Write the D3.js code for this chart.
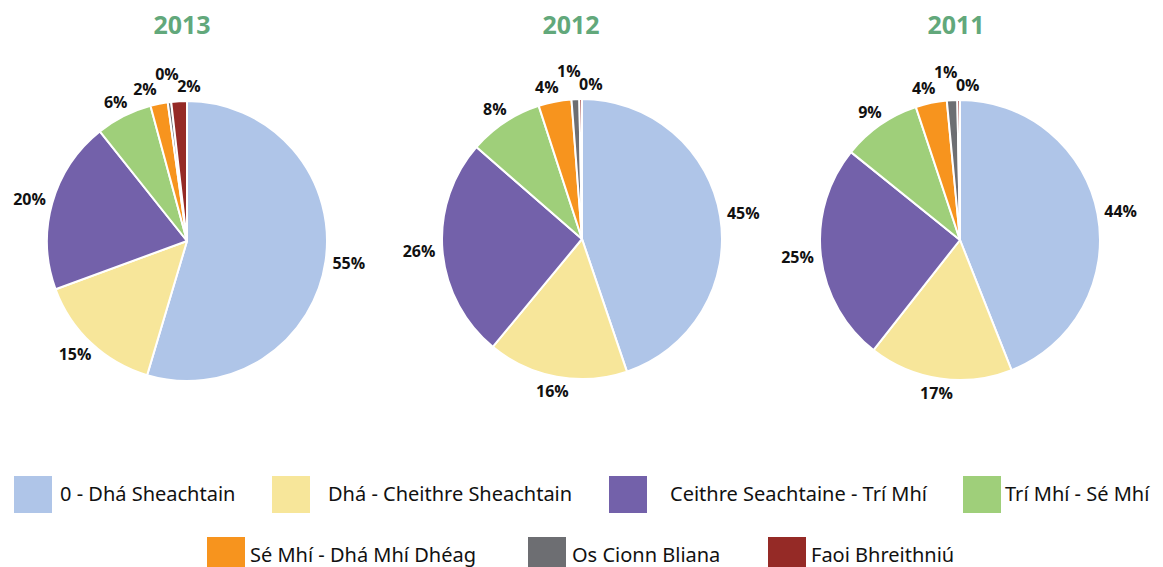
<!DOCTYPE html>
<html>
<head>
<meta charset="utf-8">
<script src="https://cdn.jsdelivr.net/npm/d3@7"></script>
<style>
  body { margin: 0; background: #fff; }
  svg { display: block; }
</style>
</head>
<body>
<svg width="1163" height="567"></svg>
<script>
var categories = ["0 - Dhá Sheachtain", "Dhá - Cheithre Sheachtain", "Ceithre Seachtaine - Trí Mhí",
  "Trí Mhí - Sé Mhí", "Sé Mhí - Dhá Mhí Dhéag", "Os Cionn Bliana", "Faoi Bhreithniú"];
var years = ["2013", "2012", "2011"];
// shares
var values2013 = [54.6, 14.8, 19.9, 6.5, 2.0, 0.4, 1.8];
var values2012 = [44.8, 16.2, 25.4, 8.6, 3.8, 0.9, 0.3];
var values2011 = [44.0, 16.6, 25.2, 9.1, 3.6, 1.2, 0.3];
// printed labels
var labels2013 = ["55%", "15%", "20%", "6%", "2%", "0%", "2%"];
var labels2012 = ["45%", "16%", "26%", "8%", "4%", "1%", "0%"];
var labels2011 = ["44%", "17%", "25%", "9%", "4%", "1%", "0%"];
var colors = ["#afc5e8", "#f7e69a", "#7361aa", "#9fcf7a", "#f7941e", "#6d6e72", "#952a26"];

main();

function main() {
  var svg = d3.select("svg");
  var radius = 140;
  var centers = [{x: 187, y: 241}, {x: 582, y: 239}, {x: 960, y: 240}];
  var titleX = [182, 571, 956];
  var allValues = [values2013, values2012, values2011];
  var allLabels = [labels2013, labels2012, labels2011];

  var pie = d3.pie().sort(null).value(function(d) { return d; });
  var arc = d3.arc().innerRadius(0).outerRadius(radius);

  years.forEach(function(year, k) {
    var c = centers[k];
    var g = svg.append("g").attr("transform", "translate(" + c.x + "," + c.y + ")");

    svg.append("text")
      .attr("x", titleX[k])
      .attr("y", 34)
      .attr("text-anchor", "middle")
      .style("font-family", "'Open Sans', sans-serif")
      .style("font-weight", "bold")
      .style("font-size", "25px")
      .style("fill", "#62a87b")
      .text(year);

    var arcs = pie(allValues[k]);

    g.selectAll("path")
      .data(arcs)
      .enter()
      .append("path")
      .attr("d", arc)
      .style("fill", function(d, i) { return colors[i]; })
      .style("stroke", "#fff")
      .style("stroke-width", 2)
      .style("stroke-linejoin", "round");

    // label placement: box edge just outside the rim
    var h = 16;
    var lab = arcs.map(function(d, i) {
      var a = (d.startAngle + d.endAngle) / 2;
      var txt = allLabels[k][i];
      var tw = txt.length * 11;
      var r = radius + 7;
      return {
        text: txt,
        x: Math.sin(a) * (r + tw / 2),
        y: -Math.cos(a) * (r + h / 2),
        w: tw
      };
    });

    // group labels that crowd each other, then spread them out
    var clusters = [[lab[0]]];
    for (var i = 1; i < lab.length; i++) {
      var p = lab[i - 1], q = lab[i];
      var crowd = Math.abs(p.x - q.x) < (p.w + q.w) / 2 + 4 && Math.abs(p.y - q.y) < h;
      if (crowd) clusters[clusters.length - 1].push(q);
      else clusters.push([q]);
    }
    clusters.forEach(function(cl) {
      if (cl.length < 2) return;
      var mx = d3.mean(cl, function(d) { return d.x; });
      var step = 22;
      cl.forEach(function(d, j) {
        d.x = mx + (j - (cl.length - 1) / 2) * step;
        if (cl.length % 2 === 1 && j === (cl.length - 1) / 2) d.y -= 13;
      });
    });

    g.selectAll("text.lbl")
      .data(lab)
      .enter()
      .append("text")
      .attr("class", "lbl")
      .attr("x", function(d) { return d.x; })
      .attr("y", function(d) { return d.y; })
      .attr("dy", "0.35em")
      .attr("text-anchor", "middle")
      .style("font-family", "'Open Sans', sans-serif")
      .style("font-weight", "bold")
      .style("font-size", "16px")
      .style("fill", "#111")
      .text(function(d) { return d.text; });
  });

  // legend, two rows as in the original
  var legendPos = [
    {x: 14, y: 476, dx: 46}, {x: 272, y: 476, dx: 56}, {x: 609, y: 476, dx: 61}, {x: 963, y: 476, dx: 42},
    {x: 207, y: 537, dx: 43}, {x: 528, y: 537, dx: 44}, {x: 768, y: 537, dx: 43}
  ];
  var legend = svg.append("g");
  var item = legend.selectAll("g")
    .data(categories)
    .enter()
    .append("g")
    .attr("transform", function(d, i) {
      return "translate(" + legendPos[i].x + "," + legendPos[i].y + ")";
    });
  item.append("rect")
    .attr("width", 38)
    .attr("height", 37)
    .style("fill", function(d, i) { return colors[i]; });
  item.append("text")
    .attr("x", function(d, i) { return legendPos[i].dx; })
    .attr("y", 18)
    .attr("dy", "0.35em")
    .style("font-family", "'Noto Sans', sans-serif")
    .style("font-size", "20px")
    .style("fill", "#111")
    .text(function(d) { return d; });
}
</script>
</body>
</html>
